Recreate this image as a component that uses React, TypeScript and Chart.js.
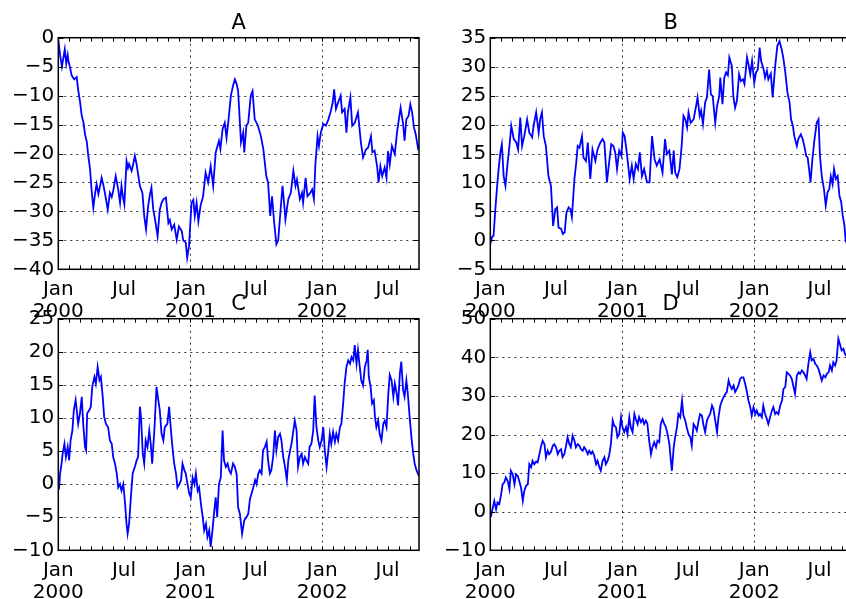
import React, { useEffect, useRef } from "react";
import { Chart, registerables } from "chart.js";

Chart.register(...registerables);

// ---- x axis: days since 2000-01-01 (1000 daily periods) ----
const monthStartDays = [
  0, 31, 60, 91, 121, 152, 182, 213, 244, 274, 305, 335,
  366, 397, 425, 456, 486, 517, 547, 578, 609, 639, 670, 700,
  731, 762, 790, 821, 851, 882, 912, 943, 974,
];
const xLabelDays = [0, 182, 366, 547, 731, 912];
const xLabelTexts: (string | string[])[] = [
  ["Jan", "2000"], "Jul", ["Jan", "2001"], "Jul", ["Jan", "2002"], "Jul",
];
const xGridDays = [366, 731];
const lastDay = 999;

// ---- series A ----
const aDays = [0,5,10,14,18,22,26,28,32,37,44,51,55,60,65,70,74,79,83,88,92,97,102,106,111,116,120,125,129,137,143,148,152,159,166,171,175,179,183,189,193,196,203,207,212,217,222,226,233,238,243,246,249,254,258,263,268,275,281,286,291,298,305,309,314,321,328,334,342,346,353,357,362,369,374,378,383,388,394,401,408,415,422,429,436,445,449,455,461,466,471,478,484,489,494,498,506,512,515,521,526,533,538,544,553,561,568,576,581,587,592,598,604,609,615,621,626,629,637,644,651,657,661,669,675,678,685,690,698,703,708,712,718,722,727,734,741,748,754,760,764,769,775,782,786,793,798,802,809,814,821,830,838,844,852,858,866,870,876,883,887,892,897,904,909,913,918,924,932,938,944,948,955,959,964,970,975,980,985,990,996,999];
const aValues = [-0.3,-3,-5,-3.5,-2,-4.5,-3,-4,-5,-6.5,-7.2,-6.8,-9,-11,-13.5,-14.7,-16.7,-18,-20.4,-22.7,-26.2,-29.4,-26.8,-25.3,-27,-25.5,-24.2,-25.5,-26.8,-29.7,-26.8,-27.5,-26.5,-23.9,-26.2,-28.5,-25.6,-27.5,-28.8,-21.3,-22.5,-21.8,-23,-22,-20.4,-21.9,-24,-25.6,-26.8,-30.8,-33.1,-31,-29,-27,-25.9,-29.7,-31.4,-34.3,-29.7,-28.5,-27.9,-27.6,-32,-31.5,-33.1,-32.3,-34.9,-32.6,-33.4,-35,-35.4,-38,-36,-28.5,-28,-30.8,-28.5,-31.7,-29,-27.4,-23.3,-25,-22.2,-25.6,-19.8,-17.8,-19.2,-15.8,-14.7,-17.3,-14.4,-10,-8.3,-7.2,-8,-9.2,-18.1,-16.4,-19.8,-15.2,-14.7,-10,-9.2,-14.1,-15.2,-17,-19.3,-23.9,-25,-30.8,-27.4,-32,-35.7,-35,-30.2,-25.6,-29,-31.4,-27.9,-26.8,-23,-25.6,-24.5,-27.9,-26.8,-28.5,-24.2,-27.4,-26.8,-26.2,-27.9,-21.9,-17,-18.7,-16.4,-14.9,-15.2,-14.1,-12.9,-11.2,-8.9,-12.3,-11.2,-10,-12.9,-12.3,-16.4,-12.9,-10.3,-15.2,-14.7,-12.9,-18.1,-20.7,-19.3,-19,-17,-19.8,-19.5,-22.2,-25,-22.2,-23.9,-22.4,-24.2,-19.6,-21.9,-18.7,-20.1,-16.4,-13.8,-12.1,-14.9,-17.8,-14.1,-13.5,-11.5,-12.9,-15.5,-16.7,-19,-18.5];

// ---- series B ----
const bDays = [0,2,5,9,14,19,23,28,32,37,42,48,54,58,65,72,77,83,88,94,102,108,116,120,127,134,138,143,148,154,161,168,174,180,185,189,196,201,206,211,217,222,226,233,238,242,247,254,258,265,270,277,283,291,297,305,311,316,323,329,335,341,346,351,357,363,367,372,378,386,392,397,403,409,414,420,426,434,441,448,455,461,469,477,484,489,496,503,508,512,518,524,530,535,540,545,549,555,563,570,574,580,584,589,595,600,606,611,616,623,628,634,637,643,648,653,658,662,669,673,678,683,689,694,700,704,711,715,720,725,731,736,741,746,750,757,761,766,770,777,782,789,795,801,807,812,817,823,829,833,838,842,849,853,860,865,869,875,879,884,887,892,898,904,909,913,918,924,929,934,939,943,948,952,957,962,967,972,976,981,984,990,999];
const bValues = [0,-0.2,0.6,0.8,5.4,9.4,12.3,15.2,16.6,11.1,9.4,13.4,16.9,19.8,17.5,16.9,15.7,21.2,16.3,18,20.9,18.6,17.8,19.8,22.1,18.6,20.9,22.1,18,16.3,11.1,9.4,2.5,5.4,5.7,2.2,2,1.1,1.4,4.8,5.7,5.4,4,10.6,13.4,16.3,16,18,14.3,13.7,16.9,10.6,15.7,13.7,15.7,16.9,17.5,16.9,10,13.4,16.6,16.3,15.2,12.3,15.5,14.6,18.6,18,15.2,10.6,12.9,10.6,13.2,12.3,15.2,11.1,12.3,10,10,18,14,12.9,14,11.7,17.5,14.9,15.5,11.4,15.5,11.7,10.9,12.3,16.3,21.5,20.9,19.5,22.1,20.3,20.9,23.2,24.7,21.5,22.4,20.1,23.8,24.7,29.5,25.2,24.9,20.3,23.2,24.9,28.1,23.5,28.1,29,28.5,31.6,30.1,24.9,22.9,24.1,28.7,27.5,27.8,27,31.6,30.4,28.7,31,27.2,29,29.5,33.3,31,29.5,28.1,29.3,27.8,28.8,24.7,30.1,33.6,34.4,33,31.3,29,25.5,23.8,20.9,19.8,18,16.3,17.5,18.3,17.5,16.5,14.6,14.3,11.7,10,14,17.5,20.3,20.9,14.6,11.1,8.9,6,8.3,8.9,11.1,9.7,12.3,10.6,11.1,7.7,6.6,4.3,2.5,0,-1,-1.5];

// ---- series C ----
const cDays = [0,2,5,9,12,17,21,26,30,34,39,43,48,52,55,60,65,69,74,77,80,86,90,94,100,104,109,114,118,123,127,132,138,143,148,152,157,162,166,171,175,180,185,189,192,196,201,206,212,217,221,226,229,234,238,242,247,252,256,260,266,272,277,281,286,291,295,302,307,312,317,321,326,330,335,340,344,349,353,358,363,367,372,377,381,386,390,395,400,404,409,413,418,422,427,432,436,440,445,450,455,459,464,469,473,478,484,489,494,498,503,509,515,521,526,531,535,540,545,549,554,558,563,567,572,577,581,586,590,595,600,604,609,614,618,623,628,633,637,642,646,651,655,660,664,669,674,678,683,687,692,696,701,706,710,715,720,724,729,734,738,743,747,752,756,761,766,770,775,780,784,789,793,798,803,808,812,817,821,826,830,835,839,844,849,854,857,860,865,869,874,877,881,886,890,895,900,904,909,914,918,923,928,932,937,941,946,950,955,959,964,968,973,978,983,987,992,996,999];
const cValues = [-0.8,-0.7,1.6,3.1,4.6,6.1,4.1,5.6,3.6,6.6,8.1,11.2,12.7,10.7,9.1,10.7,13.2,9.1,5.6,5.1,10.7,11.2,11.7,14.7,16.2,15.2,17.7,15.7,16.2,13.2,10.2,9.1,8.6,6.6,6.1,4.1,3.1,1.6,-0.5,0,-1,0,-3,-6,-7.5,-6,-2,1.6,2.6,3.6,4.1,11.7,10.2,4.6,3.1,6.6,5.6,8.1,6.1,3.1,8.1,14.7,12.7,11.2,7.6,6.6,8.6,9.1,11.7,8.1,5.1,3.1,1.6,-0.5,0,0.6,3.1,2.1,1.6,0,-1.5,-2,1,0,1.6,-1,-0.5,-3,-5,-7,-6,-8,-7,-9.5,-7,-4,-2,-5,0,1,8.1,3.6,2.6,3.1,2.1,1.6,3.1,2.6,1.5,-3.5,-4.5,-7.5,-5.5,-5,-4.5,-2.2,-1.5,-0.5,0.6,0,1.6,2.1,1.6,5.1,5.6,6.4,3.6,1.6,2.1,4.1,8.1,5.1,7.1,7.6,6.6,4.1,2.6,0.6,3.6,5.1,6.1,8.1,9.6,8.1,2.6,4.1,4.6,3.1,4.1,3.6,3.1,5.6,6.1,8.1,13.4,8.6,6.6,5.6,6.6,8.6,5.1,2.6,4.6,7.6,6.1,7.9,6.4,7.6,6.6,8.6,9.1,12.2,15.2,17.7,18.7,18.2,19.2,18.7,21,18.2,20.3,17.7,15.7,14.9,17.7,18.7,20.3,16.2,14.7,12.2,12.7,10.2,8.6,9.6,7.6,6.6,9.1,9.6,8.6,13.7,16.5,15.7,13.2,15.2,13.7,11.9,16.7,18.5,14.2,13.2,15.7,13.7,10.2,7.1,4.6,3.1,2.1,1.6,1.2];

// ---- series D ----
const dDays = [0,2,7,11,16,20,25,30,34,39,43,48,53,57,62,67,71,76,80,85,90,94,99,104,108,113,117,122,127,131,136,140,145,150,154,159,163,168,173,177,182,187,191,196,200,205,210,214,219,223,228,233,237,242,247,251,256,260,265,270,274,279,283,288,293,297,302,306,311,316,320,325,329,334,339,343,348,352,357,362,366,371,376,380,385,389,394,399,403,408,412,417,422,426,431,435,440,445,449,454,459,463,468,472,477,482,486,491,496,501,503,508,512,517,521,526,531,535,540,544,549,554,558,563,568,572,577,581,586,590,595,600,604,609,614,618,623,628,632,637,642,646,651,655,660,664,669,674,678,683,687,692,696,701,706,710,715,720,724,729,734,738,743,747,752,756,761,766,770,775,780,784,789,793,798,803,808,812,817,821,826,830,835,839,844,849,854,858,863,867,872,876,881,886,890,895,900,904,909,913,918,923,928,932,937,941,946,950,955,959,964,968,973,978,982,990,999];
const dValues = [-1,-1.1,1.1,2.8,0.6,2.4,2,4.5,7.1,7.6,8.9,8,5.8,10.6,9.7,7.1,9.7,9.3,8,6.3,2.8,5.4,6.7,7.1,12.3,11.5,13.2,12.3,13,12.8,14.9,16.7,18.4,17.5,14.1,15.8,14.9,15.5,17.1,17.5,16.7,14.9,15.8,16.2,14.1,14.9,17.1,19.3,17.5,16.7,19.7,18.4,16.7,17.5,17.1,16.2,15.8,16.7,16,14.9,15.8,15,15.6,14.5,12.3,13.2,11.5,10.6,13.2,14.1,12.3,13.2,14.5,17.5,23.6,22.3,21.9,19.3,20.1,24.5,21.9,20.6,21.9,20.1,24.5,21.9,20.6,25.3,24,22.7,24.5,23.2,24,22.7,23.6,22.8,18.4,14.9,16.7,18,16.7,18.4,18,22.7,24,22.7,22,20.1,17.5,12.3,10.6,16.7,19.3,21.9,25.3,24.5,28.8,24.9,23.6,21.9,20.1,19.3,17.1,22.7,21.9,21,23.6,25.3,24.9,22.7,20.6,23.6,24.5,25.3,27.5,26.6,23.6,20.6,24.5,27.5,28.8,29.7,30.5,31,34,32.7,31.8,32.7,31,31.8,32.7,34.4,34.8,34.8,33.1,31.4,28.8,27.1,24.9,27.1,25.3,26.2,24.9,25.3,24.5,27.5,25.3,24,22.7,24.5,26.2,27.1,25.3,25.8,25.3,27.5,28.8,31.8,32.3,36.1,35.7,35.3,34.4,32.7,30.5,35.3,36.1,35.7,36.6,36.1,35.3,34.4,38.3,41.3,39.2,39.6,38.3,37.9,37,35.7,34,35.3,34.8,35.7,36.1,37.9,36.6,38.7,37.9,39.2,44.8,43.5,41.8,42.2,40.9,40,39.5];

// ---- y axis ranges ----
const yRanges = {
  A: { min: -40, max: 0, step: 5 },
  B: { min: -5, max: 35, step: 5 },
  C: { min: -10, max: 25, step: 5 },
  D: { min: -10, max: 50, step: 10 },
};

const FONT = "'DejaVu Sans', 'Liberation Sans', sans-serif";

const mplPlugin = {
  id: "mpl",
  beforeDatasetsDraw(chart: any, _args: any, opts: any) {
    const { ctx, chartArea: a, scales } = chart;
    ctx.save();
    ctx.strokeStyle = "rgba(0,0,0,0.8)";
    ctx.lineWidth = 1;
    ctx.setLineDash([2, 4]);
    for (const t of scales.y.ticks) {
      const y = Math.round(scales.y.getPixelForValue(t.value)) + 0.5;
      if (y <= a.top + 2 || y >= a.bottom - 2) continue;
      ctx.beginPath();
      ctx.moveTo(a.left, y);
      ctx.lineTo(a.right, y);
      ctx.stroke();
    }
    for (const d of xGridDays) {
      const x = Math.round(scales.x.getPixelForValue(d)) + 0.5;
      ctx.beginPath();
      ctx.moveTo(x, a.top);
      ctx.lineTo(x, a.bottom);
      ctx.stroke();
    }
    ctx.restore();
  },
  afterDraw(chart: any, _args: any, opts: any) {
    const { ctx, chartArea: a, scales } = chart;
    ctx.save();
    ctx.strokeStyle = "#000";
    ctx.lineWidth = 1;
    ctx.setLineDash([]);
    ctx.beginPath();
    for (const t of scales.y.ticks) {
      const y = Math.round(scales.y.getPixelForValue(t.value)) + 0.5;
      ctx.moveTo(a.left, y);
      ctx.lineTo(a.left + 5, y);
      ctx.moveTo(a.right, y);
      ctx.lineTo(a.right - 5, y);
    }
    for (const d of monthStartDays) {
      const x = Math.round(scales.x.getPixelForValue(d)) + 0.5;
      ctx.moveTo(x, a.bottom);
      ctx.lineTo(x, a.bottom - 4);
      ctx.moveTo(x, a.top);
      ctx.lineTo(x, a.top + 4);
    }
    ctx.stroke();
    ctx.lineWidth = 1.5;
    ctx.strokeRect(a.left, a.top, a.right - a.left, a.bottom - a.top);
    ctx.fillStyle = "#000";
    ctx.font = `21px ${FONT}`;
    ctx.textAlign = "center";
    ctx.textBaseline = "alphabetic";
    ctx.fillText(opts.title || "", (a.left + a.right) / 2, a.top - 8.5);
    ctx.restore();
  },
};

function fmtY(v: number) {
  return v < 0 ? "\u2212" + Math.abs(v) : String(v);
}

function Panel(props: {
  title: string;
  days: number[];
  values: number[];
  range: { min: number; max: number; step: number };
  left: number;
  top: number;
}) {
  const ref = useRef<HTMLCanvasElement>(null);
  useEffect(() => {
    if (!ref.current) return;
    const chart = new Chart(ref.current, {
      type: "line",
      data: {
        datasets: [
          {
            data: props.days.map((d, i) => ({ x: d, y: props.values[i] })),
            borderColor: "rgb(0,0,255)",
            borderWidth: 1.8,
            pointRadius: 0,
            tension: 0,
            fill: false,
          },
        ],
      },
      options: {
        responsive: false,
        animation: false,
        events: [],
        layout: { padding: { left: 0, right: 11, top: 37.7, bottom: 0 } },
        plugins: {
          legend: { display: false },
          tooltip: { enabled: false },
          title: { display: false },
          mpl: { title: props.title },
        } as any,
        scales: {
          x: {
            type: "linear",
            min: 0,
            max: lastDay,
            grid: { display: false, drawTicks: false },
            border: { display: false },
            afterBuildTicks: (s: any) => {
              s.ticks = monthStartDays.map((v) => ({ value: v }));
            },
            afterFit: (s: any) => {
              s.height = 50.7;
            },
            ticks: {
              autoSkip: false,
              maxRotation: 0,
              minRotation: 0,
              padding: 9,
              color: "#000",
              font: { family: FONT, size: 20, lineHeight: 1.1 },
              callback: (v: any) => {
                const i = xLabelDays.indexOf(Number(v));
                return i >= 0 ? xLabelTexts[i] : "";
              },
            },
          },
          y: {
            type: "linear",
            min: props.range.min,
            max: props.range.max,
            grid: { display: false, drawTicks: false },
            border: { display: false },
            afterFit: (s: any) => {
              s.width = 58.3;
            },
            ticks: {
              stepSize: props.range.step,
              padding: 4,
              color: "#000",
              font: { family: FONT, size: 20 },
              callback: (v: any) => fmtY(Number(v)),
            },
          },
        },
      },
      plugins: [mplPlugin],
    });
    return () => chart.destroy();
  }, []);
  return (
    <canvas
      ref={ref}
      width={430}
      height={320}
      style={{ position: "absolute", left: props.left, top: props.top, width: 430, height: 320 }}
    />
  );
}

export default function App() {
  return (
    <div
      style={{
        position: "fixed",
        left: 0,
        top: 0,
        width: 846,
        height: 599,
        overflow: "hidden",
        background: "#fff",
      }}
    >
      <Panel title="A" days={aDays} values={aValues} range={yRanges.A} left={0} top={0} />
      <Panel title="B" days={bDays} values={bValues} range={yRanges.B} left={432} top={0} />
      <Panel title="C" days={cDays} values={cValues} range={yRanges.C} left={0} top={280.6} />
      <Panel title="D" days={dDays} values={dValues} range={yRanges.D} left={432} top={280.6} />
    </div>
  );
}
